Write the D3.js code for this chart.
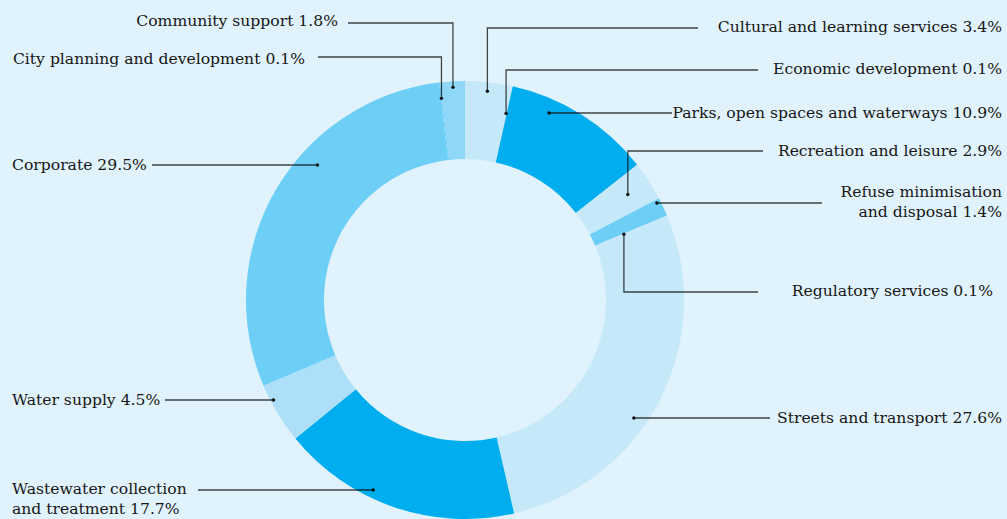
<!DOCTYPE html>
<html>
<head>
<meta charset="utf-8">
<script src="https://cdn.jsdelivr.net/npm/d3@7"></script>
<style>
  html, body { margin: 0; padding: 0; background: #e0f2fc; }
  svg { display: block; }
  text { font-family: "DejaVu Serif", serif; font-size: 15.6px; fill: #161616; }
</style>
</head>
<body>
<svg id="chart" width="1007" height="519"></svg>
<script>
// Spending share by activity, clockwise from 12 o'clock
const categories = [
  "Cultural and learning services",
  "Economic development",
  "Parks, open spaces and waterways",
  "Recreation and leisure",
  "Refuse minimisation and disposal",
  "Regulatory services",
  "Streets and transport",
  "Wastewater collection and treatment",
  "Water supply",
  "Corporate",
  "City planning and development",
  "Community support"
];
const shares = [3.4, 0.1, 10.9, 2.9, 1.4, 0.1, 27.6, 17.7, 4.5, 29.5, 0.1, 1.8];
// Label text as broken into lines
const labelLines = [
  ["Cultural and learning services 3.4%"],
  ["Economic development 0.1%"],
  ["Parks, open spaces and waterways 10.9%"],
  ["Recreation and leisure 2.9%"],
  ["Refuse minimisation", "and disposal 1.4%"],
  ["Regulatory services 0.1%"],
  ["Streets and transport 27.6%"],
  ["Wastewater collection", "and treatment 17.7%"],
  ["Water supply 4.5%"],
  ["Corporate 29.5%"],
  ["City planning and development 0.1%"],
  ["Community support 1.8%"]
];
const sliceColors = ["#c6e9f9", "#c6e9f9", "#00aeef", "#c6e9f9", "#6dcff6", "#c6e9f9",
                     "#c6e9f9", "#00aeef", "#addff8", "#6dcff6", "#6dcff6", "#8ed7f7"];

// Label placement: text anchor point, leader line height, dot radius on the ring,
// and where the leader meets the label. "elbow" leaders leave the slice midpoint
// vertically; "straight" leaders run horizontally into the ring.
const layout = [
  { kind: "elbow",    tx: 1002, ty: 27,  lineY: 28,  dotR: 210, endX: 698, anchor: "end" },
  { kind: "elbow",    tx: 1002, ty: 69,  lineY: 70,  dotR: 191, endX: 758, anchor: "end" },
  { kind: "straight", tx: 1002, ty: 113, lineY: 113, dotR: 205, endX: 672, anchor: "end" },
  { kind: "elbow",    tx: 1002, ty: 151, lineY: 151, dotR: 194, endX: 763, anchor: "end" },
  { kind: "straight", tx: 1002, ty: 202, lineY: 203, dotR: 215, endX: 822, anchor: "end" },
  { kind: "elbow",    tx: 993,  ty: 291, lineY: 292, dotR: 172, endX: 758, anchor: "end" },
  { kind: "straight", tx: 1002, ty: 418, lineY: 418, dotR: 206, endX: 770, anchor: "end" },
  { kind: "straight", tx: 12,   ty: 489, lineY: 490, dotR: 211, endX: 198, anchor: "start" },
  { kind: "straight", tx: 12,   ty: 400, lineY: 400, dotR: 216, endX: 165, anchor: "start" },
  { kind: "straight", tx: 12,   ty: 165, lineY: 165, dotR: 200, endX: 152, anchor: "start" },
  { kind: "elbow",    tx: 305,  ty: 59,  lineY: 57,  dotR: 203, endX: 318, anchor: "end" },
  { kind: "elbow",    tx: 338,  ty: 21,  lineY: 23,  dotR: 213, endX: 348, anchor: "end" }
];

const svg = d3.select("#chart");
const cx = 465, cy = 300, outerR = 219, innerR = 141;
const lineHeight = 20;

const rows = categories.map((c, i) => ({ name: c, value: shares[i], color: sliceColors[i], lines: labelLines[i], lay: layout[i] }));

const pie = d3.pie().sort(null).value(d => d.value).startAngle(0).endAngle(2 * Math.PI);
const arc = d3.arc().innerRadius(innerR).outerRadius(outerR);
const arcs = pie(rows);

const g = svg.append("g").attr("transform", `translate(${cx},${cy})`);

g.selectAll("path.slice")
  .data(arcs)
  .join("path")
  .attr("class", "slice")
  .attr("d", arc)
  .attr("fill", d => d.data.color);

// Leader lines and dots
const leaders = svg.append("g")
  .attr("fill", "none")
  .attr("stroke", "#000")
  .attr("stroke-opacity", 0.72)
  .attr("stroke-width", 1.3);
const dots = svg.append("g");
arcs.forEach(a => {
  const L = a.data.lay;
  const mid = (a.startAngle + a.endAngle) / 2;
  let dx, dy, pts;
  if (L.kind === "elbow") {
    dx = cx + L.dotR * Math.sin(mid);
    dy = cy - L.dotR * Math.cos(mid);
    pts = [[dx, dy], [dx, L.lineY], [L.endX, L.lineY]];
  } else {
    const side = Math.sin(mid) >= 0 ? 1 : -1;
    dy = L.lineY;
    dx = cx + side * Math.sqrt(L.dotR * L.dotR - (dy - cy) * (dy - cy));
    pts = [[dx, dy], [L.endX, dy]];
  }
  leaders.append("path").attr("d", d3.line()(pts));
  dots.append("circle")
    .attr("cx", dx).attr("cy", dy)
    .attr("r", 1.7)
    .attr("fill", "#111");
});

// Labels
const labels = svg.append("g");
rows.forEach(r => {
  const L = r.lay;
  const n = r.lines.length;
  const t = labels.append("text")
    .attr("x", L.tx)
    .attr("text-anchor", L.anchor);
  r.lines.forEach((line, k) => {
    t.append("tspan")
      .attr("x", L.tx)
      .attr("y", L.ty + (k - (L.anchor === "start" && n > 1 ? 0 : (n - 1) / 2)) * lineHeight)
      .attr("dy", "0.35em")
      .text(line);
  });
});
</script>
</body>
</html>
